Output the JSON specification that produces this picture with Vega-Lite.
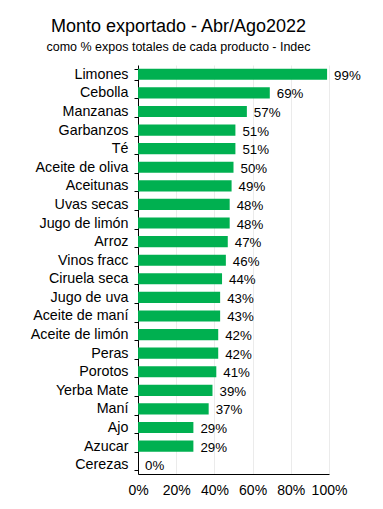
{
  "$schema": "https://vega.github.io/schema/vega-lite/v6.json",
  "autosize": {"type": "none"},
  "width": 191,
  "height": 409,
  "padding": {"left": 138, "top": 65, "right": 54, "bottom": 35},
  "background": "white",
  "title": {
    "text": "Monto exportado - Abr/Ago2022",
    "subtitle": "como % expos totales de cada producto - Indec",
    "anchor": "middle",
    "frame": "group",
    "dx": -55,
    "dy": 3,
    "offset": 8,
    "font": "Liberation Sans",
    "fontSize": 18,
    "fontWeight": "normal",
    "color": "black",
    "subtitleFont": "Liberation Sans",
    "subtitleFontSize": 12.5,
    "subtitleColor": "black",
    "subtitlePadding": 5
  },
  "config": {
    "view": {"stroke": null},
    "font": "Liberation Sans"
  },
  "data": {
    "values": [
      {"producto": "Limones", "valor": 0.99},
      {"producto": "Cebolla", "valor": 0.69},
      {"producto": "Manzanas", "valor": 0.57},
      {"producto": "Garbanzos", "valor": 0.51},
      {"producto": "Té", "valor": 0.51},
      {"producto": "Aceite de oliva", "valor": 0.50},
      {"producto": "Aceitunas", "valor": 0.49},
      {"producto": "Uvas secas", "valor": 0.48},
      {"producto": "Jugo de limón", "valor": 0.48},
      {"producto": "Arroz", "valor": 0.47},
      {"producto": "Vinos fracc", "valor": 0.46},
      {"producto": "Ciruela seca", "valor": 0.44},
      {"producto": "Jugo de uva", "valor": 0.43},
      {"producto": "Aceite de maní", "valor": 0.43},
      {"producto": "Aceite de limón", "valor": 0.42},
      {"producto": "Peras", "valor": 0.42},
      {"producto": "Porotos", "valor": 0.41},
      {"producto": "Yerba Mate", "valor": 0.39},
      {"producto": "Maní", "valor": 0.37},
      {"producto": "Ajo", "valor": 0.29},
      {"producto": "Azucar", "valor": 0.29},
      {"producto": "Cerezas", "valor": 0.0}
    ]
  },
  "encoding": {
    "y": {
      "field": "producto",
      "type": "nominal",
      "sort": null,
      "scale": {"paddingInner": 0.4, "paddingOuter": 0.2},
      "axis": {
        "title": null,
        "labelFontSize": 14.3,
        "labelColor": "black",
        "labelPadding": 6,
        "tickBand": "extent",
        "tickSize": 4,
        "tickColor": "black",
        "domainColor": "black",
        "grid": false
      }
    },
    "x": {
      "field": "valor",
      "type": "quantitative",
      "scale": {"domain": [0, 1], "nice": false},
      "axis": {
        "title": null,
        "format": ".0%",
        "values": [0, 0.2, 0.4, 0.6, 0.8, 1],
        "labelFontSize": 14,
        "labelColor": "black",
        "labelPadding": 9,
        "ticks": false,
        "domainColor": "black",
        "grid": true,
        "gridColor": "#ebebeb",
        "labelFlush": false
      }
    }
  },
  "layer": [
    {"mark": {"type": "bar", "color": "#00B050"}},
    {
      "mark": {"type": "text", "align": "left", "baseline": "middle", "dx": 7, "dy": 1.5, "fontSize": 13.3, "color": "black"},
      "encoding": {"text": {"field": "valor", "type": "quantitative", "format": ".0%"}}
    }
  ]
}
